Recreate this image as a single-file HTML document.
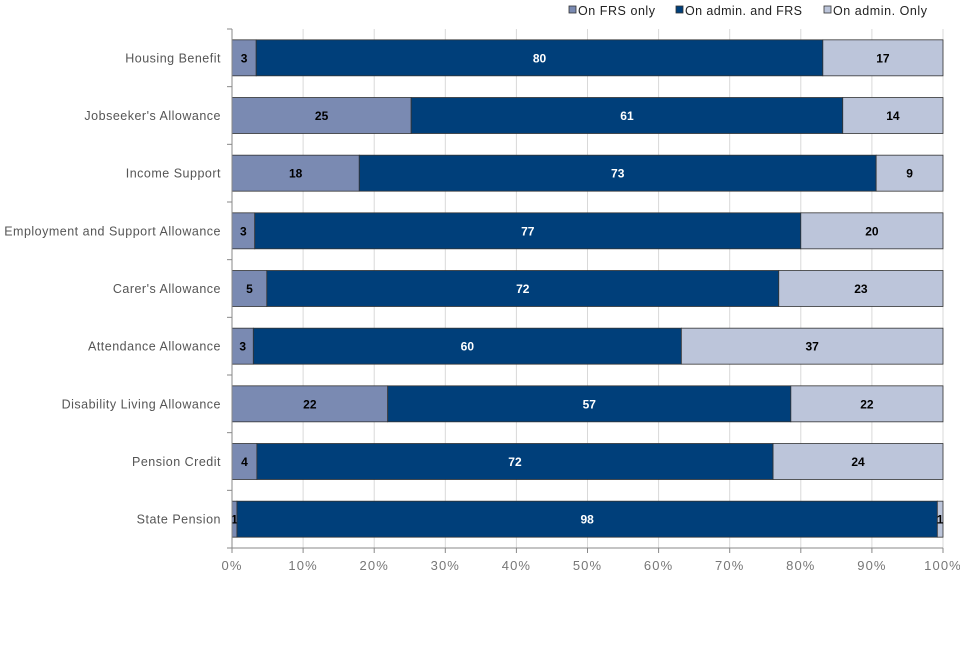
<!DOCTYPE html>
<html><head><meta charset="utf-8"><style>
body{margin:0;background:#fff;font-family:"Liberation Sans",sans-serif}
svg text{font-family:"Liberation Sans",sans-serif}
</style></head><body>
<svg id="chart" width="960" height="640" viewBox="0 0 960 640">
<g id="legend"></g>
<g id="grid"></g>
<g id="bars"></g>
<g id="axes"></g>
</svg>
<script>
const categories=["Housing Benefit","Jobseeker's Allowance","Income Support","Employment and Support Allowance","Carer's Allowance","Attendance Allowance","Disability Living Allowance","Pension Credit","State Pension"];
const frsOnly=[3.4,25.2,17.9,3.2,4.9,3.0,21.9,3.5,0.7];
const adminAndFrs=[79.7,60.7,72.7,76.8,72.0,60.2,56.7,72.6,98.5];
const adminOnly=[16.9,14.1,9.4,20.0,23.1,36.8,21.4,23.9,0.8];
const frsOnlyLabels=["3","25","18","3","5","3","22","4","1"];
const adminAndFrsLabels=["80","61","73","77","72","60","57","72","98"];
const adminOnlyLabels=["17","14","9","20","23","37","22","24","1"];
const ticks=[0,10,20,30,40,50,60,70,80,90,100];
const seriesNames=["On FRS only","On admin. and FRS","On admin. Only"];

const NS="http://www.w3.org/2000/svg";
const X0=232,X1=943,Y0=29,Y1=548;
const band=(Y1-Y0)/categories.length, bh=36;
const x=v=>X0+(X1-X0)*v/100;
const yc=i=>Y0+band*(i+0.5);
function mk(tag,attrs,parent,txt){const e=document.createElementNS(NS,tag);for(const k in attrs)e.setAttribute(k,attrs[k]);if(txt!=null)e.textContent=txt;parent.appendChild(e);return e;}
const grid=document.getElementById('grid'),bars=document.getElementById('bars'),axes=document.getElementById('axes'),legend=document.getElementById('legend');
ticks.forEach(t=>{
  const l=mk('line',{x1:x(t),x2:x(t),y1:Y0,y2:Y1,stroke:'#d9d9d9','stroke-width':1},grid);
  
  
  mk('line',{x1:x(t),x2:x(t),y1:Y1,y2:Y1+5,stroke:'#888'},axes);
  const tl=mk('text',{x:x(t),y:Y1+22,'text-anchor':'middle','font-size':13,'letter-spacing':1.1,fill:'#777'},axes,t+'%');
  
  
});
mk('line',{x1:X0,x2:X1,y1:Y1,y2:Y1,stroke:'#888'},axes);
mk('line',{x1:X0,x2:X0,y1:Y0,y2:Y1,stroke:'#888'},axes);
for(let i=0;i<=categories.length;i++)mk('line',{x1:X0-5,x2:X0,y1:Y0+band*i,y2:Y0+band*i,stroke:'#888'},axes);
const colors=['#7a8ab2','#003f7a','#bcc5da'];
const txtCol=['#000','#fff','#000'];
categories.forEach((c,i)=>{
  const cl=mk('text',{x:X0-11,y:yc(i)+4.5,'text-anchor':'end','font-size':12.5,'letter-spacing':0.5,fill:'#555'},axes,c);
  
  
  const vals=[frsOnly[i],adminAndFrs[i],adminOnly[i]];
  const labs=[frsOnlyLabels[i],adminAndFrsLabels[i],adminOnlyLabels[i]];
  let acc=0;
  vals.forEach((v,s)=>{
    const r=mk('rect',{x:x(acc),y:yc(i)-bh/2,width:x(acc+v)-x(acc),height:bh,fill:colors[s],stroke:'#333','stroke-width':0.8},bars);
    
    
    const t=mk('text',{x:(x(acc)+x(acc+v))/2,y:yc(i)+4.5,'text-anchor':'middle','font-size':12,'font-weight':'bold',fill:txtCol[s]},bars,labs[s]);
    
    
    acc+=v;
  });
});
const lx=[569,676,824];
const lw=[77,117,94];
seriesNames.forEach((n,s)=>{
  mk('rect',{x:lx[s],y:6,width:7,height:7,fill:colors[s],stroke:'#333','stroke-width':0.8},legend);
  const t=mk('text',{x:lx[s]+9,y:15,'font-size':12.5,textLength:lw[s],lengthAdjust:'spacing',fill:'#222'},legend,n);
  
  
});
</script>
</body></html>
